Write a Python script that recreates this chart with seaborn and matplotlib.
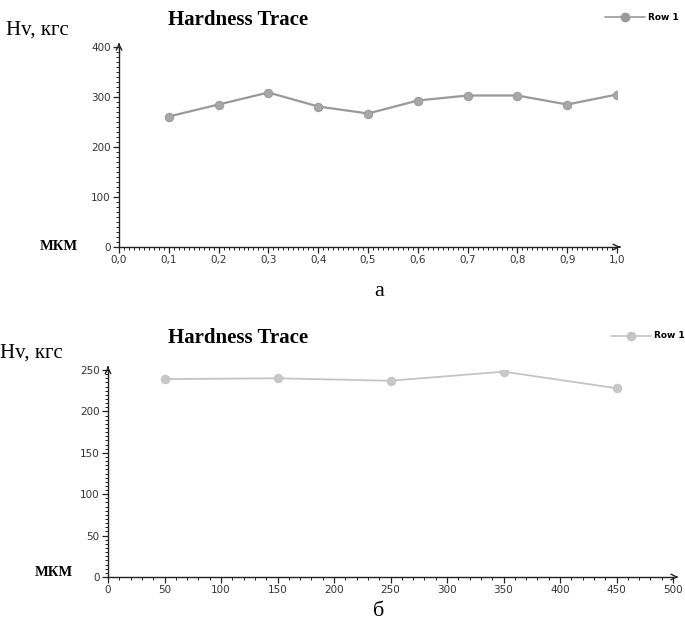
import matplotlib
matplotlib.use("Agg")
import matplotlib.pyplot as plt
import seaborn as sns
import pandas as pd
from matplotlib.ticker import MultipleLocator, FuncFormatter

sns.set_style("white")

# data
x_a = [0.1, 0.2, 0.3, 0.4, 0.5, 0.6, 0.7, 0.8, 0.9, 1.0]
hv_a = [261, 285, 309, 281, 267, 293, 303, 303, 285, 305]
x_b = [50, 150, 250, 350, 450]
hv_b = [239, 240, 237, 248, 228]
title = "Hardness Trace"
ylabel = "Hv, кгс"
xlabel = "МКМ"
series = "Row 1"
panel_labels = ["а", "б"]

fig = plt.figure(figsize=(6.85, 6.27), dpi=100)
W, H = 685, 627

def px_axes(left, right, bottom, top):
    return fig.add_axes([left / W, 1 - bottom / H, (right - left) / W, (bottom - top) / H])

ax1 = px_axes(119, 617, 247, 47)
ax2 = px_axes(108, 673, 577, 370)

serif = "Liberation Serif"
tickfont = "DejaVu Sans"

def style_axes(ax, xlim, ylim, xmaj, xmin, ymaj, ymin, fmt, arrow_dx, arrow_dy):
    ax.set_xlim(*xlim)
    ax.set_ylim(*ylim)
    for s in ["top", "right"]:
        ax.spines[s].set_visible(False)
    for s in ["left", "bottom"]:
        ax.spines[s].set_color("#222222")
        ax.spines[s].set_linewidth(1.0)
    ax.xaxis.set_major_locator(MultipleLocator(xmaj))
    ax.xaxis.set_minor_locator(MultipleLocator(xmin))
    ax.yaxis.set_major_locator(MultipleLocator(ymaj))
    ax.yaxis.set_minor_locator(MultipleLocator(ymin))
    ax.xaxis.set_major_formatter(FuncFormatter(fmt))
    ax.tick_params(which="major", direction="out", length=4, width=0.9, color="#222222",
                   labelsize=7.5, labelcolor="#333333", bottom=True, left=True, pad=2)
    ax.tick_params(which="minor", direction="out", length=2, width=0.7, color="#222222",
                   bottom=True, left=True)
    for lab in ax.get_xticklabels() + ax.get_yticklabels():
        lab.set_fontfamily(tickfont)
    # arrows at axis ends
    ax.annotate("", xy=(1 + arrow_dx, 0), xytext=(1, 0), xycoords="axes fraction",
                arrowprops=dict(arrowstyle="->", color="#222222", lw=1.0), annotation_clip=False)
    ax.annotate("", xy=(0, 1 + arrow_dy), xytext=(0, 1), xycoords="axes fraction",
                arrowprops=dict(arrowstyle="->", color="#222222", lw=1.0), annotation_clip=False)

df_a = pd.DataFrame({"x": x_a, "hv": hv_a})
df_b = pd.DataFrame({"x": x_b, "hv": hv_b})

sns.lineplot(data=df_a, x="x", y="hv", ax=ax1, color="#999999", lw=1.6,
             marker="o", markersize=6, markeredgecolor="#999999", markerfacecolor="#a8a8a8")
sns.lineplot(data=df_b, x="x", y="hv", ax=ax2, color="#c4c4c4", lw=1.3,
             marker="o", markersize=6, markeredgecolor="#c4c4c4", markerfacecolor="#c8c8c8")

style_axes(ax1, (0, 1.0), (0, 400), 0.1, 0.01, 100, 10,
           lambda v, p: f"{v:.1f}".replace(".", ","), 0.012, 0.02)
style_axes(ax2, (0, 500), (0, 250), 50, 10, 50, 5,
           lambda v, p: f"{v:.0f}", 0.014, 0.03)

for ax in (ax1, ax2):
    ax.set_xlabel("")
    ax.set_ylabel("")

# titles and labels in figure pixel coords
def ftext(x, y, s, **kw):
    fig.text(x / W, 1 - y / H, s, color="black", **kw)

ftext(238, 20, title, family=serif, weight="bold", fontsize=15, ha="center", va="center")
ftext(238, 338, title, family=serif, weight="bold", fontsize=15, ha="center", va="center")
ftext(6, 30, ylabel, family=serif, fontsize=15, ha="left", va="center")
ftext(0, 353, ylabel, family=serif, fontsize=15, ha="left", va="center")
ftext(59, 246, xlabel, family=serif, weight="bold", fontsize=10.5, ha="center", va="center")
ftext(54, 573, xlabel, family=serif, weight="bold", fontsize=10.5, ha="center", va="center")
ftext(379, 292, panel_labels[0], family=serif, fontsize=16, ha="center", va="center")
ftext(379, 612, panel_labels[1], family=serif, fontsize=16, ha="center", va="center")

# legends
for (yl, col, lx0, lx1, tx) in [(17, "#999999", 605, 645, 648), (336, "#c4c4c4", 611, 651, 654)]:
    fig.lines.append(plt.Line2D([lx0 / W, lx1 / W], [1 - yl / H, 1 - yl / H],
                                transform=fig.transFigure, color=col, lw=1.2))
    fig.lines.append(plt.Line2D([(lx0 + lx1) / 2 / W], [1 - yl / H], transform=fig.transFigure,
                                marker="o", markersize=6, color=col, markeredgecolor=col))
    ftext(tx, yl, series, family="DejaVu Sans", weight="bold", fontsize=6.5, ha="left", va="center")

fig.savefig("out.png", dpi=100)
